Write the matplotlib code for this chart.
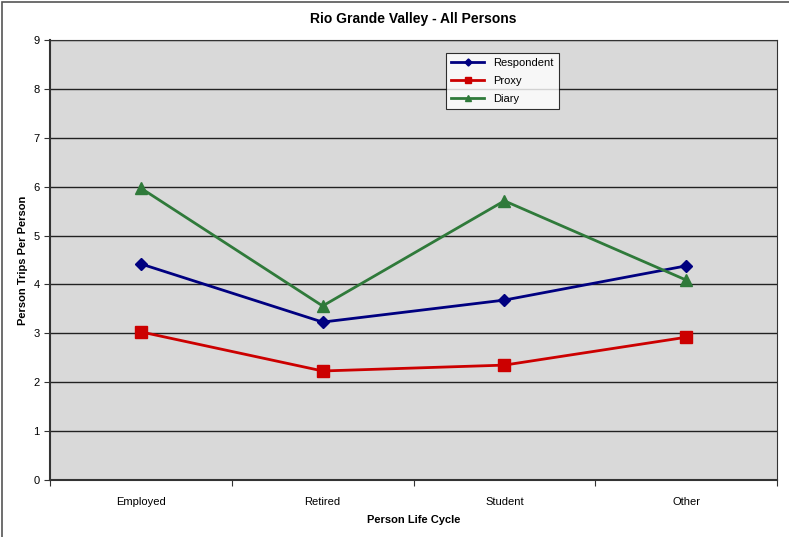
import matplotlib
matplotlib.use("Agg")
import matplotlib.pyplot as plt

categories = ["Employed", "Retired", "Student", "Other"]
respondent = [4.42, 3.23, 3.68, 4.38]
proxy = [3.03, 2.23, 2.35, 2.92]
diary = [5.97, 3.56, 5.71, 4.09]

plt.rcParams["font.family"] = ["Liberation Sans", "DejaVu Sans"]

fig = plt.figure(figsize=(7.89, 5.37), dpi=100)
ax = fig.add_axes([50/789, 57/537, 727/789, 440/537])
ax.set_facecolor("#D9D9D9")

x = range(len(categories))
ax.plot(x, respondent, color="#000080", lw=2, marker="D", ms=6, label="Respondent")
ax.plot(x, proxy, color="#CC0000", lw=2, marker="s", ms=8, label="Proxy")
ax.plot(x, diary, color="#2F7A3A", lw=2, marker="^", ms=8, label="Diary")

ax.set_xlim(-0.5, 3.5)
ax.set_ylim(0, 9)
ax.set_yticks(range(10))
ax.set_xticks([-0.5, 0.5, 1.5, 2.5, 3.5], minor=False)
ax.set_xticklabels([])
ax.set_xticks(list(x), minor=True)
ax.set_xticklabels(categories, minor=True)
ax.tick_params(axis="x", which="minor", length=0, pad=12, labelsize=8)
ax.tick_params(axis="x", which="major", length=4, direction="out", color="#333333")
ax.tick_params(axis="y", length=4, labelsize=8, color="#333333")
ax.yaxis.grid(True, color="#222222", lw=1)
ax.set_axisbelow(True)
for s in ax.spines.values():
    s.set_color("#333333")
ax.spines["left"].set_linewidth(1.5)
ax.spines["bottom"].set_linewidth(1.5)

ax.set_xlabel("Person Life Cycle", fontsize=8, fontweight="bold", labelpad=6)
ax.set_ylabel("Person Trips Per Person", fontsize=8, fontweight="bold", labelpad=4)
ax.set_title("Rio Grande Valley - All Persons", fontsize=10, fontweight="bold", pad=12)

leg = ax.legend(loc="upper left", bbox_to_anchor=(396/727, 1 - 13/440), fontsize=8,
                frameon=True, fancybox=False, edgecolor="black", facecolor="white",
                handlelength=3, markerscale=0.6, borderpad=0.45, labelspacing=0.7,
                borderaxespad=0)
leg.get_frame().set_linewidth(0.8)

fig.patches.append(plt.Rectangle((0.003, -0.01), 1.1, 1.006, transform=fig.transFigure,
                                 fill=False, edgecolor="#555555", lw=1.2))

fig.savefig("out.png", dpi=100)
